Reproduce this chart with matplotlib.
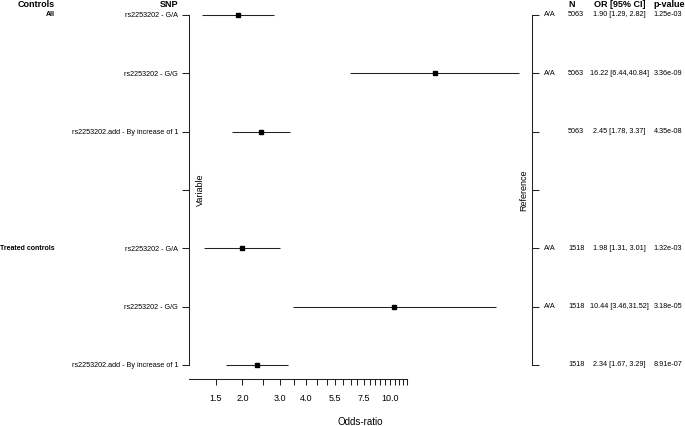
import numpy as np
import matplotlib
matplotlib.use('Agg')
import matplotlib.pyplot as plt
from matplotlib.ticker import NullLocator
from matplotlib.transforms import blended_transform_factory

# rows top to bottom, row 3 is the empty spacer
groups = ["All", "", "", "", "Treated controls", "", ""]
snp_labels = ["rs2253202 - G/A", "rs2253202 - G/G", "rs2253202.add - By increase of 1", "",
              "rs2253202 - G/A", "rs2253202 - G/G", "rs2253202.add - By increase of 1"]
reference = ["A/A", "A/A", "", "", "A/A", "A/A", ""]
n_obs = ["5063", "5063", "5063", "", "1518", "1518", "1518"]
odds = [1.90, 16.22, 2.45, np.nan, 1.98, 10.44, 2.34]
ci_low = [1.29, 6.44, 1.78, np.nan, 1.31, 3.46, 1.67]
ci_high = [2.82, 40.84, 3.37, np.nan, 3.01, 31.52, 3.29]
p_values = ["1.25e-03", "3.36e-09", "4.35e-08", "", "1.32e-03", "3.18e-05", "8.91e-07"]

x_ticks = [1.0, 1.5, 2.0, 2.5, 3.0, 3.5, 4.0, 4.5, 5.0, 5.5, 6.0, 6.5, 7.0, 7.5,
           8.0, 8.5, 9.0, 9.5, 10.0, 10.5, 11.0, 11.5, 12.0]
x_labels_shown = ["1.5", "2.0", "3.0", "4.0", "5.5", "7.5", "10.0"]

plt.rc('font', family=['Liberation Sans', 'DejaVu Sans'])

W, H = 685, 426
fig = plt.figure(figsize=(W/100, H/100), dpi=100)
ax = fig.add_axes([189.5/W, 1-379/H, (532-189.5)/W, 378/H])

rows = np.arange(len(snp_labels))
for i in rows:
    if np.isnan(odds[i]):
        continue
    ax.plot([ci_low[i], ci_high[i]], [i, i], color='#222222', lw=0.75, solid_capstyle='butt')
    ax.plot(odds[i], i, marker='s', ms=3.3, color='black', ls='none')

ax.set_xscale('log')
tick_text = [('%.1f' % t) if ('%.1f' % t) in x_labels_shown else '' for t in x_ticks]
ax.set_xticks(x_ticks, labels=tick_text)
ax.xaxis.set_minor_locator(NullLocator())
ax.set_yticks(rows, labels=snp_labels)

# R style 4% extension of the data range (set after the ticks so they do not widen it)
lo, hi = np.log(np.nanmin(ci_low)), np.log(np.nanmax(ci_high))
ext = 0.04*(hi-lo)
ax.set_xlim(np.exp(lo-ext), np.exp(hi+ext))
ax.set_ylim(rows[-1]+0.24, -0.24)

ax.tick_params(axis='y', left=True, right=True, direction='out', length=4.7,
               width=0.75, pad=3.5, labelsize=5.2, color='#222222')
ax.tick_params(axis='x', direction='out', length=4.3, width=0.75, pad=6.5,
               labelsize=6.5, color='#222222')

ax.spines['top'].set_visible(False)
for s in ['left', 'right', 'bottom']:
    ax.spines[s].set_linewidth(0.75)
    ax.spines[s].set_color('#222222')
ax.spines['left'].set_bounds(0, rows[-1])
ax.spines['right'].set_bounds(0, rows[-1])
ax.spines['bottom'].set_bounds(np.exp(lo-ext), x_ticks[-1])

ax.set_xlabel('Odds-ratio', fontsize=7, labelpad=10)

tr = blended_transform_factory(fig.transFigure, ax.transData)
for i in rows:
    if groups[i]:
        ax.text(55/W, i, groups[i], transform=tr, ha='right', va='center',
                fontsize=5.0, fontweight='bold')
    ax.text(544/W, i, reference[i], transform=tr, ha='left', va='center', fontsize=5.2)
    ax.text(568/W, i, n_obs[i], transform=tr, ha='left', va='center', fontsize=5.2)
    if not np.isnan(odds[i]):
        ax.text(619/W, i, f"{odds[i]:.2f} [{ci_low[i]:.2f},{ci_high[i]:5.2f}]",
                transform=tr, ha='center', va='center', fontsize=5.2)
    ax.text(668/W, i, p_values[i], transform=tr, ha='center', va='center', fontsize=5.2)

hy = 1-4.5/H
fig.text(55/W, hy, 'Controls', ha='right', va='center', fontsize=6.5, fontweight='bold')
fig.text(178/W, hy, 'SNP', ha='right', va='center', fontsize=6.5, fontweight='bold')
fig.text(568/W, hy, 'N', ha='left', va='center', fontsize=6.5, fontweight='bold')
fig.text(620/W, hy, 'OR [95% CI]', ha='center', va='center', fontsize=6.5, fontweight='bold')
fig.text(669/W, hy, 'p-value', ha='center', va='center', fontsize=6.5, fontweight='bold')

ax.text(200/W, 3, 'Variable', transform=tr, rotation=90, ha='center', va='center', fontsize=6.5)
ax.text(524/W, 3, 'Reference', transform=tr, rotation=90, ha='center', va='center', fontsize=6.5)

fig.savefig('out.png', dpi=100)
